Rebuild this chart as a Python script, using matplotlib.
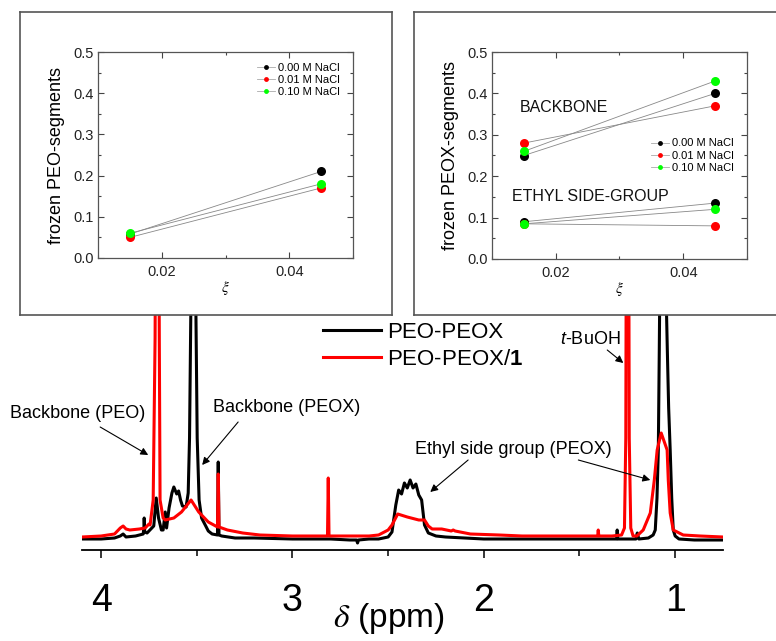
import numpy as np
import matplotlib
matplotlib.use("Agg")
import matplotlib.pyplot as plt

plt.rcParams['font.family'] = ['Liberation Sans', 'DejaVu Sans']
plt.rcParams['mathtext.fontset'] = 'custom'
plt.rcParams['mathtext.rm'] = 'Liberation Sans'
plt.rcParams['mathtext.it'] = 'Liberation Sans:italic'
plt.rcParams['mathtext.bf'] = 'Liberation Sans:bold'

# 1H NMR spectra (chemical shift in ppm, intensity in arbitrary units)
ppm_peo_peox = [4.10, 4.00, 3.93, 3.90, 3.885, 3.87, 3.82, 3.78, 3.776, 3.775, 3.772, 3.76,
                3.745, 3.725, 3.712, 3.70, 3.685, 3.676, 3.665, 3.658, 3.645, 3.63, 3.62,
                3.605, 3.595, 3.585, 3.575, 3.556, 3.545, 3.538, 3.53, 3.522, 3.514, 3.506,
                3.498, 3.488, 3.475, 3.456, 3.44, 3.42, 3.392, 3.388, 3.384, 3.37, 3.30,
                3.20, 3.00, 2.80, 2.70, 2.665, 2.66, 2.655, 2.60, 2.55, 2.50, 2.48, 2.46,
                2.445, 2.43, 2.415, 2.40, 2.385, 2.37, 2.355, 2.34, 2.325, 2.31, 2.29,
                2.25, 2.20, 2.10, 2.00, 1.80, 1.50, 1.33, 1.306, 1.303, 1.300, 1.25,
                1.205, 1.198, 1.19, 1.14, 1.115, 1.104, 1.095, 1.088, 1.083, 1.078, 1.068,
                1.058, 1.048, 1.041, 1.034, 1.026, 1.018, 1.010, 1.00, 0.98, 0.90, 0.75]
int_peo_peox = [-1, -1, 0, 2, 4, 1, 2, 4, 12, 20, 6, 5,
                8, 12, 40, 20, 8, 8, 26, 10, 30, 45, 51,
                44, 47, 38, 32, 31, 45, 100, 250, 500, 500, 250,
                100, 38, 20, 13, 7, 4, 3, 76, 3, 2, 0,
                0, -1, -1, -2, -2, -5, -2, -1, -1, 1, 6, 33,
                48, 44, 55, 50, 58, 50, 54, 43, 38, 13, 5,
                2, 1, 0, -1, -1, -1, -1, -1, 8, -1, -1,
                -1, 5, -1, 0, 3, 8, 40, 88, 188, 300, 350,
                320, 250, 188, 130, 88, 40, 8, 2, -1, -2, -2]

ppm_complex = [4.10, 4.00, 3.93, 3.90, 3.885, 3.87, 3.85, 3.80, 3.77, 3.75, 3.744, 3.728,
               3.718, 3.710, 3.704, 3.696, 3.692, 3.676, 3.665, 3.62, 3.58, 3.53, 3.49,
               3.44, 3.392, 3.388, 3.384, 3.34, 3.26, 3.17, 3.00, 2.817, 2.813, 2.809,
               2.60, 2.55, 2.50, 2.48, 2.45, 2.40, 2.34, 2.31, 2.29, 2.27, 2.22, 2.17,
               2.16, 2.15, 2.07, 1.92, 1.80, 1.60, 1.405, 1.402, 1.399, 1.33, 1.28,
               1.265, 1.258, 1.252, 1.246, 1.240, 1.232, 1.22, 1.20, 1.167, 1.130,
               1.109, 1.094, 1.073, 1.042, 1.036, 1.026, 1.010, 0.958, 0.87, 0.75]
int_complex = [1, 2, 4, 10, 12, 9, 8, 9, 10, 14, 13, 38,
               200, 600, 600, 200, 38, 20, 18, 20, 26, 38, 26,
               16, 11, 64, 11, 8, 5, 3, 2, 2, 60, 2,
               2, 3, 8, 13, 24, 21, 18, 18, 12, 9, 9, 7,
               8, 7, 4, 3, 2, 2, 2, 8, 2, 2, 3,
               10, 100, 600, 600, 100, 10, 2, 2, 8, 25,
               58, 88, 105, 88, 58, 25, 8, 3, 2, 1]

# frozen segment fractions vs. charge density xi
xi = [0.015, 0.045]
salts = ['0.00 M NaCl', '0.01 M NaCl', '0.10 M NaCl']
salt_colors = ['black', '#ff0000', '#00ff00']
peo_frozen = [[0.058, 0.21], [0.05, 0.17], [0.06, 0.18]]
peox_backbone = [[0.25, 0.40], [0.28, 0.37], [0.26, 0.43]]
peox_ethyl = [[0.09, 0.135], [0.085, 0.08], [0.085, 0.12]]

W, H = 776, 641
fig = plt.figure(figsize=(W / 100, H / 100), dpi=100)


def px_axes(x0, y0, x1, y1):
    return fig.add_axes([x0 / W, 1 - y1 / H, (x1 - x0) / W, (y1 - y0) / H])


# main spectrum
ax = px_axes(82, 300, 723, 550)
ax.plot(ppm_peo_peox, int_peo_peox, color='black', lw=2.2, label='PEO-PEOX')
ax.plot(ppm_complex, int_complex, color='#ff0000', lw=2.2, label='PEO-PEOX/$\\mathbf{1}$')
ax.set_xlim(4.1, 0.75)
ax.set_ylim(-12, 238)
for s in ['left', 'right', 'top']:
    ax.spines[s].set_visible(False)
ax.spines['bottom'].set_linewidth(1.3)
ax.set_yticks([])
ax.set_xticks([4, 3, 2, 1])
ax.set_xticks([3.5, 2.5, 1.5], minor=True)
ax.tick_params(axis='x', which='major', direction='out', length=6, width=1.1, pad=18)
ax.tick_params(axis='x', which='minor', direction='out', length=4, width=1.1)
for lab in ax.get_xticklabels():
    lab.set_fontsize(27)
ax.set_xlabel('$\\delta$ (ppm)', fontsize=24, math_fontfamily='stix', labelpad=-13)
ax.xaxis.label.set_x(0.479)

ax.legend(loc='upper left', bbox_to_anchor=(323 / W, 1 - 322 / H), bbox_transform=fig.transFigure,
          frameon=False, fontsize=16, handlelength=2.6, handletextpad=0.3, labelspacing=0.25,
          borderpad=0, borderaxespad=0)

arrow = dict(arrowstyle='-|>', color='black', lw=0.8, mutation_scale=11, shrinkA=0, shrinkB=0)
ax.text(4.123, 125, 'Backbone (PEO)', fontsize=13, ha='center', va='center', clip_on=False)
ax.annotate('', xy=(3.754, 83), xytext=(4.005, 111), arrowprops=arrow, annotation_clip=False)
ax.text(3.028, 130, 'Backbone (PEOX)', fontsize=13, ha='center', va='center')
ax.annotate('', xy=(3.472, 73), xytext=(3.284, 116), arrowprops=arrow)
ax.text(1.846, 88, 'Ethyl side group (PEOX)', fontsize=13, ha='center', va='center')
ax.annotate('', xy=(2.280, 46), xytext=(2.082, 78), arrowprops=arrow)
ax.annotate('', xy=(1.130, 58), xytext=(1.506, 78), arrowprops=arrow)
ax.text(1.444, 198, '$\\mathit{t}$-BuOH', fontsize=13, ha='center', va='center')
ax.annotate('', xy=(1.271, 175), xytext=(1.355, 188), arrowprops=arrow)

# inset frames
for box in [(20, 12, 392, 315), (414, 12, 782, 315)]:
    fr = px_axes(*box)
    fr.set_xticks([])
    fr.set_yticks([])
    fr.set_facecolor('white')
    for s in fr.spines.values():
        s.set_color('#555555')
        s.set_linewidth(1.2)


def style_inset(a, ylabel):
    a.set_xlim(0.01, 0.05)
    a.set_ylim(0, 0.5)
    a.set_xticks([0.02, 0.04])
    a.set_xticks([0.01, 0.03, 0.05], minor=True)
    a.set_yticks(np.arange(0, 0.51, 0.1))
    a.set_yticks(np.arange(0.05, 0.5, 0.1), minor=True)
    a.set_yticklabels(['0.0', '0.1', '0.2', '0.3', '0.4', '0.5'])
    a.set_xticklabels(['0.02', '0.04'])
    a.tick_params(which='both', direction='in', top=True, right=True, colors='#444444',
                  labelcolor='#222222', labelsize=10.5)
    a.tick_params(which='major', length=4, width=0.8)
    a.tick_params(which='minor', length=2.5, width=0.8)
    a.tick_params(axis='x', pad=5)
    a.tick_params(axis='y', pad=3)
    for s in a.spines.values():
        s.set_color('#555555')
        s.set_linewidth(0.9)
    a.set_xlabel('$\\xi$', fontsize=11, math_fontfamily='stix', labelpad=0)
    a.set_ylabel(ylabel, fontsize=13, labelpad=6)


def draw_series(a, values, labelled):
    for vals, name, col in zip(values, salts, salt_colors):
        a.plot(xi, vals, '-', color='#888888', lw=0.6, zorder=2)
        a.plot(xi, vals, 'o', color=col, ms=6.5, mec='none', zorder=3)
        if labelled:
            a.plot([], [], '-', color='#aaaaaa', lw=0.6, marker='o', ms=3.5, mfc=col,
                   mec='none', label=name)


ax1 = px_axes(98, 52, 353, 258)
style_inset(ax1, 'frozen PEO-segments')
draw_series(ax1, peo_frozen, True)
ax1.legend(loc='upper right', bbox_to_anchor=(0.98, 0.985), frameon=False, fontsize=8,
           handlelength=1.6, handletextpad=0.3, labelspacing=0.2, borderpad=0.2)

ax2 = px_axes(492, 52, 747, 259)
style_inset(ax2, 'frozen PEOX-segments')
draw_series(ax2, peox_backbone, True)
draw_series(ax2, peox_ethyl, False)
ax2.legend(loc='upper right', bbox_to_anchor=(0.98, 0.62), frameon=False, fontsize=8,
           handlelength=1.6, handletextpad=0.3, labelspacing=0.2, borderpad=0.2)
ax2.text(0.0144, 0.367, 'BACKBONE', fontsize=11.5, ha='left', va='center', color='#111111')
ax2.text(0.0131, 0.150, 'ETHYL SIDE-GROUP', fontsize=11.5, ha='left', va='center',
         color='#111111')

fig.savefig('out.png', dpi=100)
